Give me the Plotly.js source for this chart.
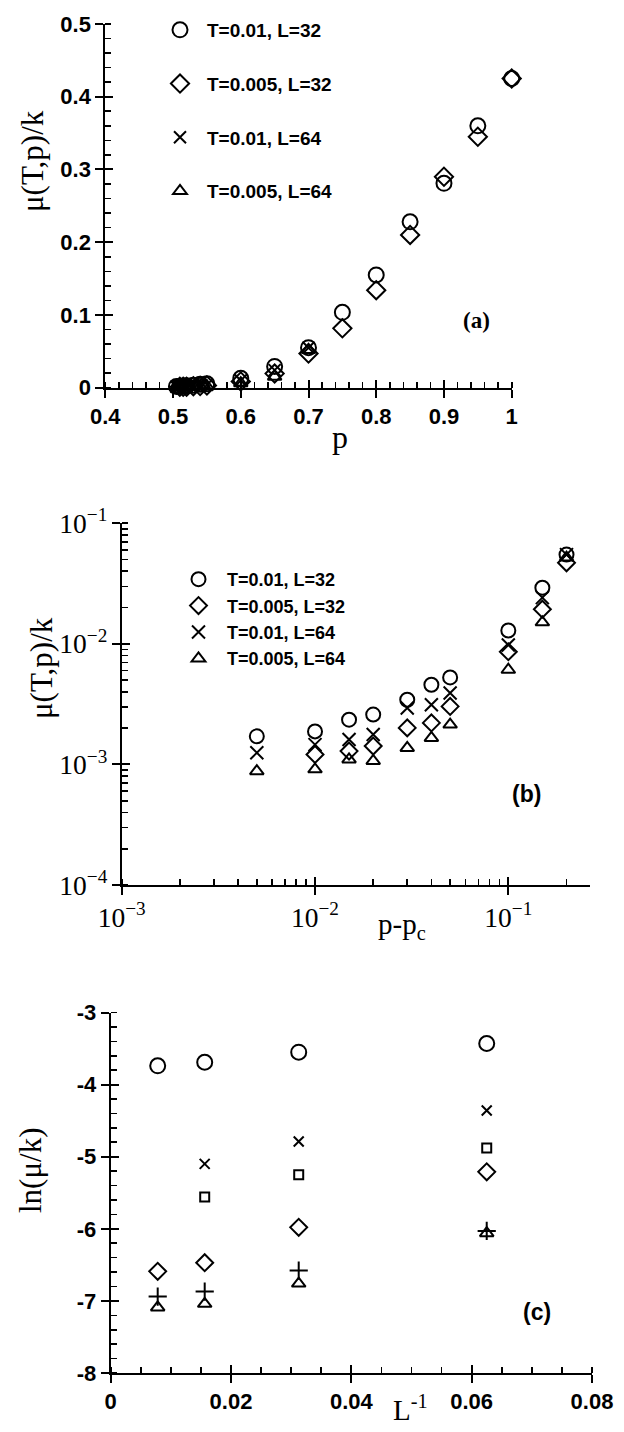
<!DOCTYPE html>
<html>
<head>
<meta charset="utf-8">
<script src="https://cdn.plot.ly/plotly-3.0.1.min.js"></script>
<style>html,body{margin:0;padding:0;background:#fff;}#chart{width:624px;height:1432px;}</style>
</head>
<body>
<div id="chart"></div>
<script>
// ---------- DATA ----------
// Panel (a): mu(T,p)/k versus p
const p32 = [0.505, 0.51, 0.515, 0.52, 0.53, 0.54, 0.55, 0.6, 0.65, 0.7, 0.75, 0.8, 0.85, 0.9, 0.95, 1.0];
const p64 = [0.505, 0.51, 0.515, 0.52, 0.53, 0.54, 0.55, 0.6, 0.65, 0.7];
const muT01L32  = [0.00171, 0.00188, 0.00235, 0.00259, 0.00344, 0.00458, 0.00527, 0.0129, 0.0292, 0.055, 0.1036, 0.155, 0.228, 0.281, 0.360, 0.425];
const muT005L32 = [null, 0.00121, 0.00129, 0.00142, 0.00201, 0.00221, 0.00303, 0.0086, 0.0194, 0.047, 0.0816, 0.134, 0.210, 0.290, 0.345, 0.425];
const muT01L64  = [0.00125, 0.00146, 0.00161, 0.00177, 0.00294, 0.00313, 0.00391, 0.0098, 0.0242, 0.055];
const muT005L64 = [0.00088, 0.00091, 0.00110, 0.00107, 0.00137, 0.00166, 0.00214, 0.0061, 0.0151, 0.052];
// Panel (b): same data versus p - pc
const dp = [0.005, 0.01, 0.015, 0.02, 0.03, 0.04, 0.05, 0.1, 0.15, 0.2];
const seriesNames = ['T=0.01, L=32', 'T=0.005, L=32', 'T=0.01, L=64', 'T=0.005, L=64'];
// Panel (c): ln(mu/k) versus 1/L
const invL = [0.0078125, 0.015625, 0.03125, 0.0625];
const lnCircle   = [-3.74, -3.69, -3.55, -3.43];
const lnCross    = [null, -5.10, -4.79, -4.36];
const lnSquare   = [null, -5.56, -5.25, -4.88];
const lnDiamond  = [-6.59, -6.47, -5.98, -5.21];
const lnPlus     = [-6.94, -6.87, -6.58, -6.03];
const lnTriangle = [-7.09, -7.04, -6.76, -6.06];
// Panel (c) y tick labels (plain hyphen, as printed)
const cYTickVals = [-8, -7, -6, -5, -4, -3];
const cYTickText = ['-8', '-7', '-6', '-5', '-4', '-3'];

// ---------- STYLE / GEOMETRY ----------
const W = 624, H = 1432;
const SANS = 'Liberation Sans, Arial, sans-serif';
const SERIF = 'Liberation Serif, Times New Roman, serif';
const fx = px => px / W;
const fy = py => 1 - py / H;

function mk(symbol, size) {
  return {symbol: symbol, size: size, color: 'black', line: {color: 'black', width: 2}};
}
function mainAxis(o) {
  return Object.assign({
    showline: true, linecolor: 'black', linewidth: 2, mirror: false,
    ticks: 'outside', ticklen: 8, tickwidth: 2, tickcolor: 'black',
    showgrid: false, zeroline: false, fixedrange: true,
  }, o);
}
function overAxis(o) {
  return Object.assign({
    showline: false, ticks: 'inside', ticklen: 8, tickwidth: 2, tickcolor: 'black',
    showticklabels: false, showgrid: false, zeroline: false, fixedrange: true,
  }, o);
}
function minor(dt) {
  return {dtick: dt, ticks: 'inside', ticklen: 6, tickwidth: 1.6, tickcolor: 'black', showgrid: false};
}

const syms = [['circle-open', 15], ['diamond-open', 14], ['x-thin-open', 12], ['triangle-up-open', 12]];
const traces = [];
// panel a
const aY = [muT01L32, muT005L32, muT01L64, muT005L64];
const aX = [p32, p32, p64, p64];
for (let i = 0; i < 4; i++) {
  traces.push({type: 'scatter', mode: 'markers', x: aX[i], y: aY[i], name: seriesNames[i],
    xaxis: 'x', yaxis: 'y', marker: mk(syms[i][0], syms[i][1]), cliponaxis: false,
    legend: 'legend', legendgroup: 'a' + i, showlegend: true});
}
// panel b
const bSyms = [['circle-open', 14], ['diamond-open', 13], ['x-thin-open', 13], ['triangle-up-open', 12]];
for (let i = 0; i < 4; i++) {
  traces.push({type: 'scatter', mode: 'markers', x: dp, y: aY[i].slice(0, dp.length), name: seriesNames[i],
    xaxis: 'x2', yaxis: 'y2', marker: mk(bSyms[i][0], bSyms[i][1]), cliponaxis: false,
    legend: 'legend2', legendgroup: 'b' + i, showlegend: true});
}
// panel c
const cSeries = [[lnCircle, 'circle-open', 15], [lnCross, 'x-thin-open', 10], [lnSquare, 'square-open', 9],
                 [lnDiamond, 'diamond-open', 13], [lnPlus, 'cross-thin-open', 13], [lnTriangle, 'triangle-up-open', 12]];
cSeries.forEach(s => {
  traces.push({type: 'scatter', mode: 'markers', x: invL, y: s[0], xaxis: 'x3', yaxis: 'y3',
    marker: mk(s[1], s[2]), cliponaxis: false, showlegend: false});
});
// invisible copies on overlay axes (they only carry the inner half of the crossing major ticks)
[['x4', 'y4', p32, muT01L32], ['x5', 'y5', dp, muT01L64], ['x6', 'y6', invL, lnCircle]].forEach(a => {
  traces.push({type: 'scatter', mode: 'markers', x: a[2], y: a[3], xaxis: a[0], yaxis: a[1],
    marker: {opacity: 0, size: 1}, showlegend: false, hoverinfo: 'skip'});
});

const tfS = {family: SANS, size: 22, color: 'black', weight: 'bold'};
const tfR = {family: SERIF, size: 22, color: 'black'};

// panel geometry (pixels)
const A = {x0: 105.3, x1: 511.7, y0: 387.7, y1: 24};
const B = {x0: 121.7, x1: 589.5, y0: 885, y1: 523.3};
const C = {x0: 110.7, x1: 592, y0: 1373, y1: 1012.5};

const layout = {
  width: W, height: H, margin: {l: 0, r: 0, t: 0, b: 0},
  paper_bgcolor: 'white', plot_bgcolor: 'rgba(0,0,0,0)', showlegend: true,
  font: {family: SANS, color: 'black'},
  // panel a
  xaxis: mainAxis({domain: [fx(A.x0), fx(A.x1)], anchor: 'y', range: [0.4, 1.0], tick0: 0.4, dtick: 0.1, tickfont: tfS, minor: minor(0.02)}),
  yaxis: mainAxis({domain: [fy(A.y0), fy(A.y1)], anchor: 'x', range: [0, 0.5], tick0: 0, dtick: 0.1, tickfont: tfS, minor: minor(0.02)}),
  xaxis4: overAxis({overlaying: 'x', anchor: 'y', range: [0.4, 1.0], tick0: 0.4, dtick: 0.1}),
  yaxis4: overAxis({overlaying: 'y', anchor: 'x', range: [0, 0.5], tick0: 0, dtick: 0.1}),
  // panel b
  xaxis2: mainAxis({domain: [fx(B.x0), fx(B.x1)], anchor: 'y2', type: 'log', range: [-3, Math.log10(0.263)], dtick: 1, exponentformat: 'power', tickfont: tfR, minor: minor('D1')}),
  yaxis2: mainAxis({domain: [fy(B.y0), fy(B.y1)], anchor: 'x2', type: 'log', range: [-4, -1], dtick: 1, exponentformat: 'power', tickfont: tfR, minor: minor('D1')}),
  xaxis5: overAxis({overlaying: 'x2', anchor: 'y2', type: 'log', range: [-3, Math.log10(0.263)], dtick: 1}),
  yaxis5: overAxis({overlaying: 'y2', anchor: 'x2', type: 'log', range: [-4, -1], dtick: 1}),
  // panel c
  xaxis3: mainAxis({domain: [fx(C.x0), fx(C.x1)], anchor: 'y3', range: [0, 0.08], tick0: 0, dtick: 0.02, tickfont: tfS, minor: minor(0.005)}),
  yaxis3: mainAxis({domain: [fy(C.y0), fy(C.y1)], anchor: 'x3', range: [-8, -3], tickmode: 'array', tickvals: cYTickVals, ticktext: cYTickText, tickfont: tfS, minor: minor(0.2)}),
  xaxis6: overAxis({overlaying: 'x3', anchor: 'y3', range: [0, 0.08], tick0: 0, dtick: 0.02}),
  yaxis6: overAxis({overlaying: 'y3', anchor: 'x3', range: [-8, -3], tick0: -8, dtick: 1}),
  legend: {x: fx(153), y: fy(11), xanchor: 'left', yanchor: 'top', font: {family: SANS, size: 19, color: 'black', weight: 'bold'},
           traceorder: 'grouped', tracegroupgap: 26, itemwidth: 44, bgcolor: 'rgba(0,0,0,0)', borderwidth: 0},
  legend2: {x: fx(170), y: fy(561), xanchor: 'left', yanchor: 'top', font: {family: SANS, size: 18, color: 'black', weight: 'bold'},
           traceorder: 'grouped', tracegroupgap: 0, itemwidth: 47, bgcolor: 'rgba(0,0,0,0)', borderwidth: 0},
  annotations: [
    {text: 'μ(T,p)/k', x: fx(32), y: fy(161), textangle: -90, font: {family: SERIF, size: 31}},
    {text: 'p', x: fx(340), y: fy(437), font: {family: SERIF, size: 32}},
    {text: '(a)', x: fx(477), y: fy(320), font: {family: SERIF, size: 23, weight: 'bold'}},
    {text: 'μ(T,p)/k', x: fx(42), y: fy(668), textangle: -90, font: {family: SERIF, size: 31}},
    {text: 'p-p<sub>c</sub>', x: fx(402), y: fy(926), font: {family: SERIF, size: 29}},
    {text: '(b)', x: fx(526), y: fy(794), font: {family: SANS, size: 23, weight: 'bold'}},
    {text: 'ln(μ/k)', x: fx(30), y: fy(1170), textangle: -90, font: {family: SERIF, size: 31}},
    {text: 'L<sup>-1</sup>', x: fx(410), y: fy(1408), font: {family: SERIF, size: 29}},
    {text: '(c)', x: fx(537), y: fy(1312), font: {family: SANS, size: 23, weight: 'bold'}},
  ].map(a => Object.assign({xref: 'paper', yref: 'paper', showarrow: false, xanchor: 'center', yanchor: 'middle'}, a)),
};

Plotly.newPlot('chart', traces, layout, {staticPlot: true, displayModeBar: false});
</script>
</body>
</html>
